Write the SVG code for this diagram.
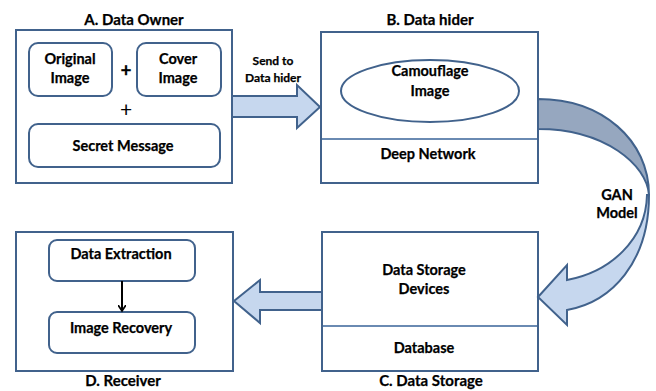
<svg xmlns="http://www.w3.org/2000/svg" width="656" height="391" viewBox="0 0 656 391">
<style>
.box{fill:#fff;stroke:#41628C;stroke-width:2}
.rbox{fill:#fff;stroke:#41628C;stroke-width:2}
.div{stroke:#6A8AB2;stroke-width:2}
.t{font-family:Lato,"Liberation Sans",sans-serif;font-weight:bold;font-size:14.5px;fill:#000;text-anchor:middle;stroke:#000;stroke-width:0.25}
.title{font-size:15px}
.s{font-size:12px}
.arr{fill:#C6D7EE;stroke:#41628C;stroke-width:2;stroke-linejoin:miter}
.dark{fill:#96A7BF;stroke:#41628C;stroke-width:2}
</style>
<defs>
<marker id="ah" markerWidth="8" markerHeight="8" refX="6" refY="4" orient="auto" markerUnits="userSpaceOnUse">
<path d="M0,0 L6,4 L0,8" fill="none" stroke="#000" stroke-width="1.8"/>
</marker>
</defs>

<g id="nodeA">
<rect class="box" x="16" y="30" width="216" height="153"/>
<text class="t title" x="134" y="25">A.  Data Owner</text>
<rect class="rbox" x="29" y="43" width="83" height="53" rx="9"/>
<text class="t" x="70" y="64">Original</text>
<text class="t" x="70" y="83">Image</text>
<rect class="rbox" x="137" y="43" width="84" height="53" rx="9"/>
<text class="t" x="178" y="64">Cover</text>
<text class="t" x="178" y="83">Image</text>
<text class="t" x="126" y="77" style="font-size:19px">+</text>
<text class="t" x="126" y="117" style="font-size:21px;font-weight:normal;stroke-width:0">+</text>
<rect class="rbox" x="29" y="124" width="191" height="43" rx="9"/>
<text class="t" x="123" y="151">Secret Message</text>
</g>

<g id="nodeB">
<rect class="box" x="321" y="32" width="217" height="151"/>
<line class="div" x1="322" y1="139" x2="537" y2="139"/>
<text class="t title" x="430" y="25">B. Data hider</text>
<ellipse cx="430" cy="91" rx="89" ry="31" fill="#fff" stroke="#41628C" stroke-width="2"/>
<text class="t" x="430" y="76">Camouflage</text>
<text class="t" x="430" y="96">Image</text>
<text class="t" x="428" y="159">Deep Network</text>
</g>

<g id="nodeC">
<rect class="box" x="322" y="232" width="216" height="139"/>
<line class="div" x1="323" y1="326" x2="537" y2="326"/>
<text class="t" x="424" y="275">Data Storage</text>
<text class="t" x="424" y="294">Devices</text>
<text class="t" x="424" y="353">Database</text>
<text class="t title" x="431" y="386">C. Data Storage</text>
</g>

<g id="nodeD">
<rect class="box" x="16" y="232" width="217" height="139"/>
<text class="t title" x="123" y="386">D. Receiver</text>
<rect class="rbox" x="49" y="240" width="146" height="41" rx="8"/>
<text class="t" x="121" y="259">Data Extraction</text>
<rect class="rbox" x="49" y="312" width="146" height="41" rx="8"/>
<text class="t" x="121" y="333">Image Recovery</text>
</g>

<g id="connectors">
<path class="arr" d="M232,96 L297,96 L297,85 L320,107 L297,128 L297,117 L232,117 Z"/>
<text class="t s" x="273" y="65">Send to</text>
<text class="t s" x="273" y="82">Data  hider</text>
<path class="arr" d="M322,292 L260,292 L260,280 L234,301 L260,323 L260,310 L322,310 Z"/>
<path class="dark" d="M538,99 C602,99 649,140 649,195 C647,165 605,129 538,129 Z"/>
<path class="arr" d="M649,195 C649,262 612,302 567,310 L567,325 L538,297 L567,265 L567,280 C610,272 646,240 647,195 Z"/>
<text class="t" x="617" y="200">GAN</text>
<text class="t" x="617" y="218">Model</text>
<line x1="122" y1="281" x2="122" y2="311" stroke="#000" stroke-width="2" marker-end="url(#ah)"/>
</g>
</svg>
